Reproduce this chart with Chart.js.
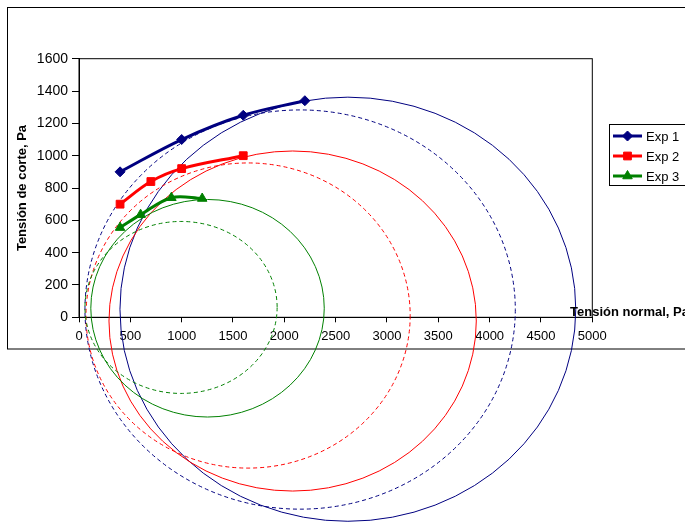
<!DOCTYPE html>
<html lang="es">
<head>
<meta charset="utf-8">
<title>Círculos de Mohr</title>
<script src="https://cdn.jsdelivr.net/npm/chart.js@4/dist/chart.umd.min.js"></script>
<style>
    html, body { margin: 0; padding: 0; background: #fff; }
    #grafico { display: block; }
</style>
</head>
<body>
<canvas id="grafico" width="685" height="522"></canvas>
<script>
// ==========================================================
// DATOS: envolventes de falla por experimento
// ==========================================================
const exp1Normal = [400, 1000, 1600, 2200];
const exp1Corte  = [900, 1100, 1250, 1340];
const exp2Normal = [400, 700, 1000, 1600];
const exp2Corte  = [700, 840, 920, 1000];
const exp3Normal = [400, 600, 900, 1200];
const exp3Corte  = [555, 635, 740, 735];

const nombresSeries = ['Exp 1', 'Exp 2', 'Exp 3'];

// Círculos de Mohr (centro y semiejes, en Pa), dos por experimento
const circuloExp    = [0, 0, 1, 1, 2, 2];
const circuloCentroX = [2619, 2154, 2081, 1647, 1252, 994];
const circuloCentroY = [50, 48, -23, 11, 56, 61];
const circuloRadioX  = [2220, 2096, 1789, 1579, 1137, 936];
const circuloRadioY  = [1312, 1235, 1052, 944, 673, 532];
const circuloPunteado = [false, true, false, true, false, true];

// Ejes
const ejeXMin = 0, ejeXMax = 5000, ejeXPaso = 500;
const ejeYMin = 0, ejeYMax = 1600, ejeYPaso = 200;

// ==========================================================
// ESTILOS
// ==========================================================
const colores = ['#000080', '#ff0000', '#008000'];
const marcadores = ['rectRot', 'rect', 'triangle'];
const radiosMarcador = [5, 5.5, 5.5];
const fuente = "'Liberation Sans', Arial, sans-serif";

const aPuntos = (xs, ys) => xs.map((x, i) => ({ x: x, y: ys[i] }));
const seriesDatos = [
    aPuntos(exp1Normal, exp1Corte),
    aPuntos(exp2Normal, exp2Corte),
    aPuntos(exp3Normal, exp3Corte)
];

// Círculos, marco del área, caja exterior, título X y leyenda
const pluginMohr = {
    id: 'mohr',
    beforeDraw(chart) {
        const ctx = chart.ctx;
        ctx.save();
        ctx.strokeStyle = '#000';
        ctx.lineWidth = 1;
        ctx.strokeRect(7.5, 7.5, 720, 341.5);
        ctx.restore();
    },
    beforeDatasetsDraw(chart) {
        const ctx = chart.ctx;
        const sx = chart.scales.x, sy = chart.scales.y;
        const a = chart.chartArea;

        // marco del área de trazado
        ctx.save();
        ctx.strokeStyle = '#000';
        ctx.lineWidth = 1;
        ctx.strokeRect(a.left, a.top, a.right - a.left, a.bottom - a.top);
        ctx.restore();

        // círculos (sin recorte, como en el original)
        circuloCentroX.forEach((cx, i) => {
            const px = sx.getPixelForValue(cx);
            const py = sy.getPixelForValue(circuloCentroY[i]);
            const rx = sx.getPixelForValue(cx + circuloRadioX[i]) - px;
            const ry = py - sy.getPixelForValue(circuloCentroY[i] + circuloRadioY[i]);
            ctx.save();
            ctx.strokeStyle = colores[circuloExp[i]];
            ctx.lineWidth = 1;
            ctx.setLineDash(circuloPunteado[i] ? [4, 3] : []);
            ctx.beginPath();
            ctx.ellipse(px, py, rx, ry, 0, 0, Math.PI * 2);
            ctx.stroke();
            ctx.restore();
        });

        // título del eje X, junto al extremo derecho
        ctx.save();
        ctx.fillStyle = '#000';
        ctx.font = 'bold 13px ' + fuente;
        ctx.textAlign = 'left';
        ctx.textBaseline = 'middle';
        ctx.fillText('Tensión normal, Pa', 570, 312);
        ctx.restore();
    },
    afterDraw(chart) {
        const ctx = chart.ctx;
        const lx = 609.5, ly = 124.5, lw = 90, lh = 61;
        ctx.save();
        ctx.fillStyle = '#fff';
        ctx.fillRect(lx, ly, lw, lh);
        ctx.strokeStyle = '#000';
        ctx.lineWidth = 1;
        ctx.strokeRect(lx, ly, lw, lh);

        nombresSeries.forEach((nombre, i) => {
            const yy = 136 + i * 20;
            ctx.strokeStyle = colores[i];
            ctx.lineWidth = 3;
            ctx.setLineDash([]);
            ctx.beginPath();
            ctx.moveTo(613, yy);
            ctx.lineTo(642, yy);
            ctx.stroke();
            ctx.fillStyle = colores[i];
            ctx.lineWidth = 1;
            Chart.helpers.drawPoint(ctx, {
                pointStyle: marcadores[i],
                radius: radiosMarcador[i],
                rotation: 0,
                borderWidth: 1
            }, 627.5, yy);
            ctx.fillStyle = '#000';
            ctx.font = '13px ' + fuente;
            ctx.textAlign = 'left';
            ctx.textBaseline = 'middle';
            ctx.fillText(nombre, 646, yy + 1);
        });
        ctx.restore();
    }
};

new Chart(document.getElementById('grafico'), {
    type: 'line',
    data: {
        datasets: seriesDatos.map((d, i) => ({
            label: nombresSeries[i],
            data: d,
            borderColor: colores[i],
            backgroundColor: colores[i],
            borderWidth: 3,
            tension: 0.35,
            pointStyle: marcadores[i],
            pointRadius: radiosMarcador[i],
            pointHoverRadius: radiosMarcador[i],
            pointBorderWidth: 1,
            clip: false
        }))
    },
    options: {
        responsive: false,
        animation: false,
        devicePixelRatio: 1,
        layout: { padding: { left: 0, right: 92.7, top: 58.7, bottom: 0 } },
        plugins: {
            legend: { display: false },
            tooltip: { enabled: false }
        },
        scales: {
            x: {
                type: 'linear',
                min: ejeXMin,
                max: ejeXMax,
                afterFit: s => { s.height = 204.7; },
                ticks: {
                    stepSize: ejeXPaso,
                    color: '#000',
                    padding: 6,
                    maxRotation: 0,
                    callback: v => String(v),
                    font: { family: fuente, size: 13 }
                },
                grid: { drawOnChartArea: false, drawTicks: true, tickLength: 5, color: '#000' },
                border: { color: '#000', width: 1 }
            },
            y: {
                type: 'linear',
                min: ejeYMin,
                max: ejeYMax,
                afterFit: s => { s.width = 79; },
                ticks: {
                    stepSize: ejeYPaso,
                    color: '#000',
                    padding: 4,
                    callback: v => String(v),
                    font: { family: fuente, size: 14 }
                },
                grid: { drawOnChartArea: false, drawTicks: true, tickLength: 7, color: '#000' },
                border: { color: '#000', width: 1 },
                title: {
                    display: true,
                    text: 'Tensión de corte, Pa',
                    color: '#000',
                    padding: { top: 15, bottom: 0 },
                    font: { family: fuente, size: 13, weight: 'bold' }
                }
            }
        }
    },
    plugins: [pluginMohr]
});
</script>
</body>
</html>
